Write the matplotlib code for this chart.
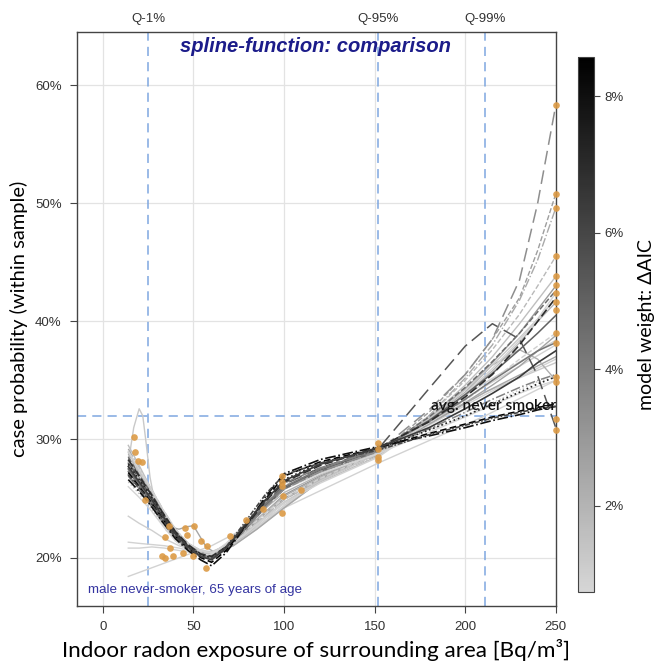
import matplotlib
matplotlib.use("Agg")
import matplotlib.pyplot as plt
from matplotlib.colors import LinearSegmentedColormap, Normalize
from matplotlib.ticker import FuncFormatter
import matplotlib.cm as cm

# ---------------- data ----------------
grid_x = [14, 20, 26, 33, 40, 47, 54, 60, 68, 78, 90, 100, 120, 152, 180, 200, 215, 230, 240, 250]

# model weights (%) of the spline variants
light_weights = [3.0, 2.8, 2.6, 2.4, 2.2, 2.0, 1.8, 1.6, 1.4, 1.2, 1.0, 0.9, 0.8]
light_curves = [
    [28.2, 26.8, 25.4, 23.6, 22.0, 20.9, 20.3, 20.2, 20.9, 22.2, 23.9, 25.3, 26.9, 28.9, 31.8, 34.3, 36.5, 39.0, 41.0, 43.0],
    [28.8, 27.3, 25.8, 24.0, 22.3, 21.1, 20.4, 20.3, 20.9, 22.1, 23.8, 25.0, 26.7, 28.8, 32.3, 35.5, 38.5, 42.0, 46.0, 50.8],
    [27.0, 25.9, 24.7, 23.1, 21.7, 20.7, 20.2, 20.2, 21.0, 22.5, 24.4, 25.8, 27.2, 29.0, 31.3, 33.1, 34.6, 36.2, 37.5, 38.8],
    [29.2, 27.6, 26.0, 24.1, 22.4, 21.2, 20.5, 20.3, 20.9, 22.0, 23.6, 24.9, 26.6, 28.7, 32.0, 35.2, 38.0, 41.8, 45.2, 49.6],
    [28.0, 26.6, 25.2, 23.4, 21.9, 20.9, 20.4, 20.4, 21.1, 22.3, 23.9, 25.2, 26.8, 28.9, 31.7, 34.0, 36.3, 37.6, 36.8, 35.0],
    [27.5, 26.3, 25.0, 23.4, 21.9, 20.9, 20.3, 20.2, 21.0, 22.4, 24.2, 25.5, 27.0, 28.9, 31.6, 33.8, 35.8, 38.2, 40.0, 41.6],
    [28.6, 27.1, 25.6, 23.8, 22.1, 21.0, 20.4, 20.3, 20.9, 22.0, 23.6, 24.9, 26.6, 28.8, 32.0, 35.0, 37.6, 40.6, 43.0, 45.5],
    [29.5, 27.8, 26.0, 24.0, 22.3, 21.2, 20.6, 20.4, 20.8, 21.8, 23.4, 24.6, 26.4, 28.6, 31.8, 34.6, 37.0, 39.8, 41.8, 43.8],
    [26.4, 25.4, 24.3, 22.8, 21.5, 20.6, 20.1, 20.2, 21.1, 22.7, 24.7, 26.1, 27.4, 29.0, 30.8, 32.0, 33.1, 34.2, 34.9, 35.3],
    [28.9, 27.3, 25.8, 23.9, 22.3, 21.2, 20.6, 20.5, 21.0, 22.0, 23.5, 24.7, 26.5, 28.8, 31.7, 34.2, 36.3, 38.6, 40.2, 41.9],
    [27.8, 26.5, 25.2, 23.5, 22.0, 21.0, 20.5, 20.4, 21.0, 22.2, 23.8, 25.0, 26.7, 28.9, 31.4, 33.3, 35.0, 36.8, 37.9, 39.0],
    [29.0, 27.5, 26.0, 24.1, 22.4, 21.2, 20.6, 20.4, 20.9, 21.9, 23.4, 24.6, 26.3, 28.5, 31.5, 33.9, 36.0, 38.4, 40.2, 42.4],
    [26.0, 25.1, 24.1, 22.7, 21.4, 20.6, 20.2, 20.3, 21.2, 22.7, 24.5, 25.8, 27.1, 28.8, 30.6, 31.9, 32.9, 33.9, 34.5, 35.0],
]
light_styles = ['-', '--', '-', '-.', '-', '-', '--', '-', ':', '-', '--', '-', '-']

mid_weights = [5.4, 5.0, 4.6, 4.2, 3.8, 3.4]
mid_curves = [
    [28.0, 26.7, 25.3, 23.6, 22.1, 21.0, 20.2, 20.0, 20.8, 22.4, 24.6, 26.2, 27.6, 29.2, 34.3, 37.9, 39.8, 38.5, 35.4, 31.0],
    [27.5, 26.2, 24.9, 23.3, 21.9, 20.8, 20.1, 19.9, 20.7, 22.3, 24.4, 25.9, 27.4, 29.1, 31.6, 33.8, 35.6, 37.6, 39.0, 40.5],
    [28.5, 27.0, 25.6, 23.8, 22.2, 21.0, 20.3, 20.1, 20.8, 22.3, 24.3, 25.8, 27.3, 29.0, 31.9, 34.4, 36.6, 39.0, 40.8, 42.6],
    [27.3, 26.1, 24.8, 23.2, 21.8, 20.8, 20.1, 20.0, 20.8, 22.4, 24.6, 26.0, 27.5, 29.2, 31.5, 33.4, 35.0, 36.5, 37.5, 38.2],
    [26.9, 25.7, 24.5, 23.0, 21.7, 20.7, 20.1, 20.0, 20.9, 22.6, 24.9, 26.3, 27.6, 29.1, 30.9, 32.3, 33.4, 34.4, 35.0, 35.5],
    [27.8, 26.5, 25.1, 23.4, 21.9, 20.8, 20.1, 19.9, 20.7, 22.3, 24.3, 25.8, 27.3, 29.0, 32.5, 35.5, 38.5, 43.5, 50.0, 58.3],
]
mid_styles = [(0, (9, 4)), '-', '--', '-', '-.', (0, (9, 4))]

dark_weights = [8.5, 8.0, 7.4, 6.9, 6.4, 6.0]
dark_curves = [
    [27.2, 26.0, 24.8, 23.3, 21.8, 20.8, 20.0, 19.6, 20.6, 22.6, 25.0, 26.9, 28.1, 29.3, 30.5, 31.3, 31.9, 32.4, 32.7, 33.0],
    [26.6, 25.6, 24.5, 23.0, 21.6, 20.6, 19.8, 19.3, 20.4, 22.5, 25.2, 27.1, 28.3, 29.4, 30.3, 31.0, 31.6, 32.1, 32.5, 32.8],
    [27.9, 26.6, 25.3, 23.7, 22.1, 21.0, 20.2, 20.0, 20.9, 22.6, 24.9, 26.6, 28.0, 29.2, 30.8, 32.0, 33.0, 34.0, 34.7, 35.3],
    [28.3, 26.9, 25.5, 23.8, 22.2, 21.1, 20.3, 20.1, 20.9, 22.5, 24.8, 26.4, 27.8, 29.3, 31.5, 33.6, 35.5, 38.0, 40.0, 42.0],
    [27.7, 26.4, 25.1, 23.5, 22.0, 20.9, 20.1, 19.8, 20.8, 22.7, 24.9, 26.5, 27.9, 29.3, 31.0, 32.6, 33.9, 35.3, 36.5, 37.5],
    [27.0, 25.9, 24.7, 23.2, 21.8, 20.8, 20.1, 19.9, 20.9, 22.9, 25.4, 27.0, 28.0, 29.1, 30.4, 31.2, 31.8, 32.3, 32.6, 32.8],
]
dark_styles = [(0, (4, 2)), '-.', ':', (0, (5, 2)), '-', (0, (3, 1, 1, 1))]

# special light variants with own knots
spike_x = [14, 17, 20, 22, 24, 26, 30, 35, 42, 50, 56, 62, 72, 85, 100, 120, 152, 180, 211, 250]
spike_y = [28.0, 31.0, 32.6, 32.0, 29.5, 26.8, 23.6, 22.3, 21.4, 20.8, 20.5, 20.4, 21.2, 22.5, 24.2, 26.5, 29.0, 31.5, 34.0, 36.5]
flat_x = [14, 20, 27, 34, 42, 50, 56, 62, 72, 85, 100, 120, 152, 180, 211, 250]
flat1_y = [21.3, 21.2, 21.1, 21.0, 20.8, 20.5, 20.3, 20.3, 21.0, 22.4, 24.2, 26.5, 29.0, 31.5, 34.5, 38.0]
flat2_y = [20.8, 20.8, 20.9, 20.8, 20.6, 20.4, 20.3, 20.4, 21.1, 22.5, 24.3, 26.6, 29.0, 31.2, 33.8, 36.8]
low_y = [23.5, 22.9, 22.3, 21.6, 21.0, 20.6, 20.4, 20.5, 21.2, 22.6, 24.4, 26.7, 29.1, 31.7, 34.8, 38.4]
linear_x = [14, 60, 100, 152, 211, 250]
linear_y = [18.4, 21.0, 24.2, 28.0, 32.0, 35.0]
bump_x = [14, 20, 26, 33, 37, 42, 46, 50, 57, 62, 72, 85, 100, 120, 152, 180, 211, 250]
bump_y = [27.0, 25.8, 24.6, 23.4, 22.6, 22.4, 22.6, 22.7, 20.9, 20.4, 21.0, 22.4, 24.2, 26.5, 28.9, 31.3, 34.0, 37.0]
special_weights = [1.2, 0.9, 0.9, 1.0, 0.9, 2.5]

# knot points (orange)
knot_x = [17.1, 17.7, 19.5, 21.8, 23.2, 32.4, 34.2, 34.2, 36.6, 37.0, 38.8, 44.3, 45.3, 46.2, 49.8, 50.2,
          54.4, 57.6, 56.8, 70.0, 79.0, 88.5, 98.6, 98.6, 98.6, 99.5, 98.6, 109.6,
          152, 152, 152, 152,
          250, 250, 250, 250, 250, 250, 250, 250, 250, 250, 250, 250, 250, 250, 250]
knot_y = [30.2, 28.9, 28.2, 28.1, 24.9, 20.1, 21.7, 20.0, 22.65, 20.8, 20.1, 20.4, 22.5, 21.9, 20.1, 22.65,
          21.4, 21.0, 19.1, 21.8, 23.2, 24.1, 26.9, 26.4, 26.1, 25.2, 23.8, 25.7,
          29.7, 29.2, 28.5, 28.3,
          58.3, 50.8, 49.6, 45.5, 43.8, 43.1, 42.4, 41.6, 41.0, 39.0, 38.2, 35.3, 34.9, 31.7, 30.8]

quantile_x = [25, 152, 211]
quantile_labels = ['Q-1%', 'Q-95%', 'Q-99%']
avg_never_smoker = 32.0
x_ticks = [0, 50, 100, 150, 200, 250]
y_ticks = [20, 30, 40, 50, 60]
cbar_ticks = [2, 4, 6, 8]
w_min, w_max = 0.74, 8.57

# ---------------- plot ----------------
fig = plt.figure(figsize=(6.64, 6.67), dpi=100)
ax = fig.add_axes([0.116, 0.0915, 0.721, 0.8605])
cax = fig.add_axes([0.8705, 0.1124, 0.024, 0.802])

cmap = LinearSegmentedColormap.from_list('gw', ['#d6d6d6', '#000000'])
norm = Normalize(vmin=w_min, vmax=w_max)

ax.set_xlim(-14.3, 250)
ax.set_ylim(15.9, 64.5)
for t in x_ticks[:-1]:
    ax.axvline(t, color='#e3e3e3', lw=0.9, zorder=0)
for t in y_ticks:
    ax.axhline(t, color='#e3e3e3', lw=0.9, zorder=0)

qcol = '#7ea7e0'
for q in quantile_x:
    ax.axvline(q, color=qcol, lw=1.1, dashes=(6, 4), zorder=1)
ax.axhline(avg_never_smoker, color=qcol, lw=1.1, dashes=(6, 4), zorder=1)

# special light curves
spec = [(spike_x, spike_y), (flat_x, flat1_y), (flat_x, flat2_y), (flat_x, low_y), (linear_x, linear_y), (bump_x, bump_y)]
for (xs, ys), w in zip(spec, special_weights):
    ax.plot(xs, ys, color=cmap(norm(w)), lw=1.0, zorder=2)

for ys, w, ls in zip(light_curves, light_weights, light_styles):
    ax.plot(grid_x, ys, color=cmap(norm(w)), lw=1.0, linestyle=ls, zorder=3)
for ys, w, ls in zip(mid_curves, mid_weights, mid_styles):
    ax.plot(grid_x, ys, color=cmap(norm(w)), lw=1.1, linestyle=ls, zorder=4)
for ys, w, ls in zip(dark_curves, dark_weights, dark_styles):
    ax.plot(grid_x, ys, color=cmap(norm(w)), lw=1.2, linestyle=ls, zorder=5)

ax.plot(knot_x, knot_y, 'o', color='#dc9a45', ms=4.8, mec='none', alpha=0.9, zorder=6, clip_on=False)

ax.text(250, 32.2, 'avg. never smoker', ha='right', va='bottom', fontsize=11.2,
        family='Lato', fontweight='semibold', color='#111111', zorder=7)
ax.text(0.499, 0.974, 'spline-function: comparison', transform=ax.transAxes, ha='center', va='center',
        fontsize=14.5, fontweight='bold', fontstyle='italic', color='#1c1c8a', family='Liberation Sans')
ax.text(0.023, 0.028, 'male never-smoker, 65 years of age', transform=ax.transAxes, ha='left', va='center',
        fontsize=9.6, color='#3333a0', family='Liberation Sans')

# top quantile labels
for q, lab in zip(quantile_x, quantile_labels):
    ax.text(q, 1.012, lab, transform=ax.get_xaxis_transform(), ha='center', va='bottom',
            fontsize=9.5, color='#333333', family='Liberation Sans')

ax.set_xticks(x_ticks)
ax.set_yticks(y_ticks)
ax.yaxis.set_major_formatter(FuncFormatter(lambda v, p: f'{v:.0f}%'))
ax.tick_params(axis='both', length=5, width=0.8, color='#444444', labelsize=9.5, labelcolor='#333333', pad=6)
for lab in ax.get_xticklabels() + ax.get_yticklabels():
    lab.set_family('Liberation Sans')
for s in ax.spines.values():
    s.set_color('#444444')
    s.set_linewidth(1.0)

ax.set_xlabel('Indoor radon exposure of surrounding area [Bq/m³]', fontsize=16.2, family='Lato', labelpad=4)
ax.set_ylabel('case probability (within sample)', fontsize=14.5, family='Lato', labelpad=5)

cb = fig.colorbar(cm.ScalarMappable(norm=norm, cmap=cmap), cax=cax)
cb.set_ticks(cbar_ticks)
cb.set_ticklabels([f'{t}%' for t in cbar_ticks])
cb.ax.tick_params(length=4, width=0.8, color='#444444', labelsize=9.5, labelcolor='#333333')
for lab in cb.ax.get_yticklabels():
    lab.set_family('Liberation Sans')
cb.outline.set_edgecolor('#444444')
cb.set_label('model weight: ΔAIC', fontsize=14, family='Lato', labelpad=10)

fig.savefig('out.png', dpi=100)
